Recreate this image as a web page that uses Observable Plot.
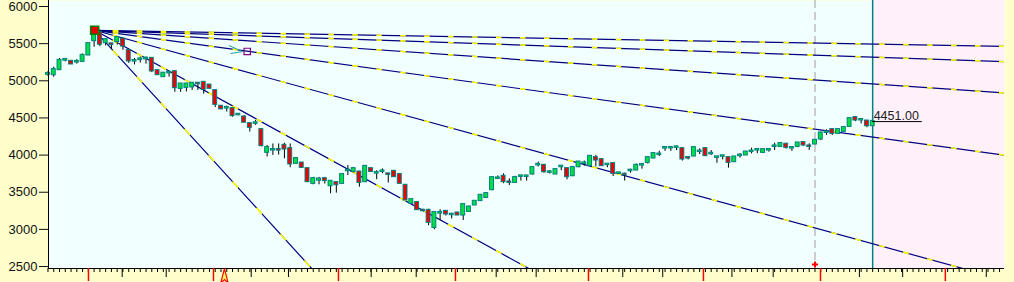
<!DOCTYPE html>
<html><head><meta charset="utf-8">
<script src="https://cdn.jsdelivr.net/npm/d3@7"></script>
<script src="https://cdn.jsdelivr.net/npm/@observablehq/plot@0.6"></script>
<style>html,body{margin:0;padding:0;background:#FFFFCC;} #chart svg{display:block}</style>
</head><body><div id="chart"></div><script>
const opens  = [5090,5085,5152,5280,5260,5255,5264,5350,5542,5650,5515,5495,5530,5560,5404,5268,5288,5298,5300,5134,5058,5110,5120,4900,4914,4920,4965,4977,4940,4865,4655,4636,4623,4545,4510,4421,4430,4340,4040,4070,4072,4129,4084,3891,3891,3815,3622,3665,3680,3591,3627,3622,3792,3783,3770,3645,3815,3760,3782,3745,3779,3735,3591,3352,3358,3255,3254,3029,3222,3240,3200,3218,3196,3245,3331,3389,3433,3537,3688,3712,3636,3635,3716,3715,3748,3870,3860,3770,3748,3846,3815,3725,3846,3890,3860,3963,3936,3873,3883,3756,3740,3792,3802,3868,3904,3963,4010,4097,4098,4106,4084,3965,3990,4050,4084,4020,3972,3986,3963,3914,3995,4004,4050,4070,4039,4070,4119,4120,4143,4097,4120,4165,4120,4152,4219,4307,4340,4295,4322,4389,4502,4475,4456,4398];
const highs  = [5125,5183,5300,5300,5270,5285,5360,5510,5720,5680,5560,5500,5585,5570,5425,5300,5320,5320,5310,5140,5105,5125,5135,4960,4965,4975,4968,4985,4950,4870,4665,4660,4630,4555,4530,4430,4465,4350,4129,4150,4150,4160,4150,3965,3900,3820,3700,3700,3700,3650,3635,3740,3860,3830,3780,3860,3825,3790,3815,3750,3790,3745,3595,3400,3370,3270,3270,3230,3265,3250,3215,3225,3340,3310,3390,3470,3495,3700,3720,3748,3680,3715,3720,3720,3840,3905,3870,3790,3810,3850,3825,3840,3915,3920,3990,3995,3950,3878,3890,3765,3757,3810,3880,3872,3970,4030,4052,4100,4105,4120,4100,3975,4110,4084,4100,4060,3980,3990,3975,3980,4020,4050,4093,4075,4080,4085,4160,4165,4160,4105,4170,4175,4152,4200,4310,4340,4355,4350,4380,4495,4520,4478,4465,4460];
const lows   = [5060,5048,5140,5255,5220,5225,5250,5340,5452,5460,5470,5425,5480,5410,5235,5215,5240,5225,5110,5075,5050,5050,4845,4845,4850,4870,4870,4820,4890,4640,4610,4580,4510,4530,4440,4310,4400,4110,3975,3995,4000,3950,3830,3880,3825,3630,3600,3600,3610,3480,3488,3610,3725,3760,3568,3630,3770,3670,3750,3625,3700,3615,3390,3340,3260,3240,3050,2995,3120,3180,3140,3190,3120,3230,3320,3380,3420,3520,3670,3615,3590,3620,3650,3650,3730,3840,3755,3745,3740,3790,3667,3710,3830,3850,3850,3840,3850,3830,3712,3740,3650,3757,3790,3810,3880,3955,3981,4050,4050,4060,3920,3935,3980,4008,3985,3995,3890,3935,3825,3900,3960,3995,4017,4020,4030,4040,4062,4110,4080,4050,4100,4120,4062,4140,4196,4265,4265,4280,4310,4375,4450,4420,4367,4390];
const closes = [5095,5148,5273,5285,5229,5258,5340,5498,5641,5495,5552,5490,5580,5470,5270,5270,5292,5302,5135,5085,5100,5112,4910,4954,4954,4964,4963,4887,4902,4685,4625,4638,4533,4547,4445,4376,4432,4130,4098,4072,4070,4084,3883,3950,3837,3645,3681,3675,3660,3645,3604,3735,3795,3815,3635,3846,3783,3762,3784,3742,3712,3622,3398,3398,3268,3253,3097,3223,3224,3210,3202,3196,3331,3299,3375,3456,3479,3694,3690,3645,3634,3694,3718,3717,3829,3872,3779,3772,3802,3848,3712,3829,3904,3892,3981,3936,3860,3875,3757,3758,3738,3794,3860,3870,3963,4017,4012,4099,4100,4108,3950,3963,4098,4052,3995,4022,3974,3988,3904,3972,3997,4039,4052,4072,4071,4072,4121,4152,4107,4099,4160,4138,4118,4196,4295,4309,4295,4340,4367,4488,4475,4476,4398,4451];

const yTicks = [2500,3000,3500,4000,4500,5000,5500,6000];
const fanSlopes = [85.2, 42.6, 21.3, 10.65, 5.35, 2.68, 1.37];   // price per bar
const fanOrigin = {i: 8.1, price: 5680};
const fanHandle = {i: 34.55, price: 5395};
const handleArrow = [{x1: 31.39, y1: 5475, x2: 33.73, y2: 5394}, {x1: 31.65, y1: 5367, x2: 33.73, y2: 5394}];
const monthTicks = [7.02, 28.7, 50.37, 70.66, 93.72, 113.66, 133.95, 155.6];
const decadeTicks = [12.87, 20.5, 35.24, 41.7, 56.04, 63.85, 77.72, 84.65, 99.67, 106.6, 118.6, 125.75, 140.7, 148.2, 162.7];
const dayTicks = d3.range(0, 166);
const cursorBar = 133;
const lastBar = 143;
const lastPrice = 4451;
const lastLabelEnd = 151.6;
const eventBar = 30.6;

const xDomain = [0.09, 165.86];
const yDomain = [2473.5, 6081];

const candles = opens.map((o, i) => ({i, open: o, high: highs[i], low: lows[i], close: closes[i]}));
const up = candles.filter(d => d.close >= d.open);
const down = candles.filter(d => d.close < d.open);

const fanLines = fanSlopes.flatMap((s, k) => [
  {k, x: fanOrigin.i, y: fanOrigin.price},
  {k, x: xDomain[1], y: fanOrigin.price - s * (xDomain[1] - fanOrigin.i)}
]);
const dashPhase = 11.24, dashPeriod = 4.153, dashLen = 0.95;
const dashes = [];
fanSlopes.forEach(s => {
  for (let x = dashPhase; x < xDomain[1]; x += dashPeriod) {
    const x2 = Math.min(x + dashLen, xDomain[1]);
    dashes.push({x1: x, x2, y1: fanOrigin.price - s * (x - fanOrigin.i), y2: fanOrigin.price - s * (x2 - fanOrigin.i)});
  }
});

const arrowSymbol = {
  draw(ctx, size) {
    const s = Math.sqrt(size);
    ctx.moveTo(0, -s * 0.9);
    ctx.lineTo(s * 0.42, s * 0.75);
    ctx.lineTo(0, s * 0.35);
    ctx.lineTo(-s * 0.42, s * 0.75);
    ctx.closePath();
  }
};

const font = "'Liberation Sans', Arial, sans-serif";

const chart = Plot.plot({
  width: 1014, height: 282,
  marginLeft: 48, marginRight: 10, marginTop: 0, marginBottom: 14,
  x: {domain: xDomain, label: null},
  y: {domain: yDomain, label: null},
  style: {background: "#FFFFCC", fontFamily: font, overflow: "visible"},
  marks: [
    Plot.frame({fill: "#F2FFFF", stroke: "none"}),
    Plot.rect([{a: lastBar, b: xDomain[1]}], {x1: "a", x2: "b", fill: "#FFF0FA"}),
    Plot.ruleX([cursorBar], {stroke: "#BEBEBE", strokeWidth: 1.5, strokeDasharray: "8,4"}),
    Plot.ruleX([lastBar], {stroke: "#008080", strokeWidth: 1.5}),
    Plot.line(fanLines, {x: "x", y: "y", z: "k", stroke: "#000080", strokeWidth: 1.2, clip: true}),
    Plot.link(dashes, {x1: "x1", y1: "y1", x2: "x2", y2: "y2", stroke: "#FFFF00", strokeWidth: 1.6, clip: true}),
    Plot.ruleX(candles, {x: "i", y1: "low", y2: "high", stroke: "#000", strokeWidth: 1}),
    Plot.rect(up, {x1: d => d.i - 0.34, x2: d => d.i + 0.34, y1: "open", y2: "close", fill: "#00E040", stroke: "#008080", strokeWidth: 1, insetTop: -0.7, insetBottom: -0.7}),
    Plot.rect(down, {x1: d => d.i - 0.34, x2: d => d.i + 0.34, y1: "open", y2: "close", fill: "#EE0000", stroke: "#008080", strokeWidth: 1, insetTop: -0.7, insetBottom: -0.7}),
    Plot.dot([fanOrigin], {x: "i", y: "price", symbol: "square", r: 4.6, fill: "#E00000", stroke: "#008000", strokeWidth: 1.5}),
    Plot.link(handleArrow, {x1: "x1", y1: "y1", x2: "x2", y2: "y2", stroke: "#20A0A0", strokeWidth: 1}),
    Plot.dot([fanHandle], {x: "i", y: "price", symbol: "square", r: 3.6, fill: "none", stroke: "#800080", strokeWidth: 1.2}),
    Plot.ruleY([lastPrice], {x1: lastBar, x2: lastLabelEnd, stroke: "#000", strokeWidth: 1}),
    Plot.text([lastPrice], {x: lastBar, y: d => d, text: d => d.toFixed(2), textAnchor: "start", lineAnchor: "bottom", dx: 1, dy: -2, fontSize: 12.5, fill: "#222"}),
    Plot.ruleX([xDomain[0]], {stroke: "#000", strokeWidth: 1}),
    Plot.ruleY([yDomain[0]], {stroke: "#000", strokeWidth: 1}),
    Plot.axisY(yTicks, {tickSize: 9, tickPadding: 2, fontSize: 13, color: "#111", label: null, tickFormat: d => String(d)}),
    Plot.axisX(dayTicks, {tickSize: 4, fill: "none", stroke: "#000", label: null}),
    Plot.axisX(decadeTicks, {tickSize: 9, fill: "none", stroke: "#000", label: null}),
    Plot.axisX(monthTicks, {tickSize: 13, fill: "none", stroke: "#FF0000", strokeWidth: 1.5, label: null}),
    Plot.dot([eventBar], {x: d => d, frameAnchor: "bottom", dy: 8, symbol: arrowSymbol, r: 5, fill: "#FFFF60", stroke: "#FF0000", strokeWidth: 1.2}),
    Plot.dot([cursorBar], {x: d => d, frameAnchor: "bottom", dy: -4, symbol: "cross", r: 2.6, fill: "#FF0000", stroke: "none"})
  ]
});
document.getElementById("chart").appendChild(chart);
</script></body></html>
